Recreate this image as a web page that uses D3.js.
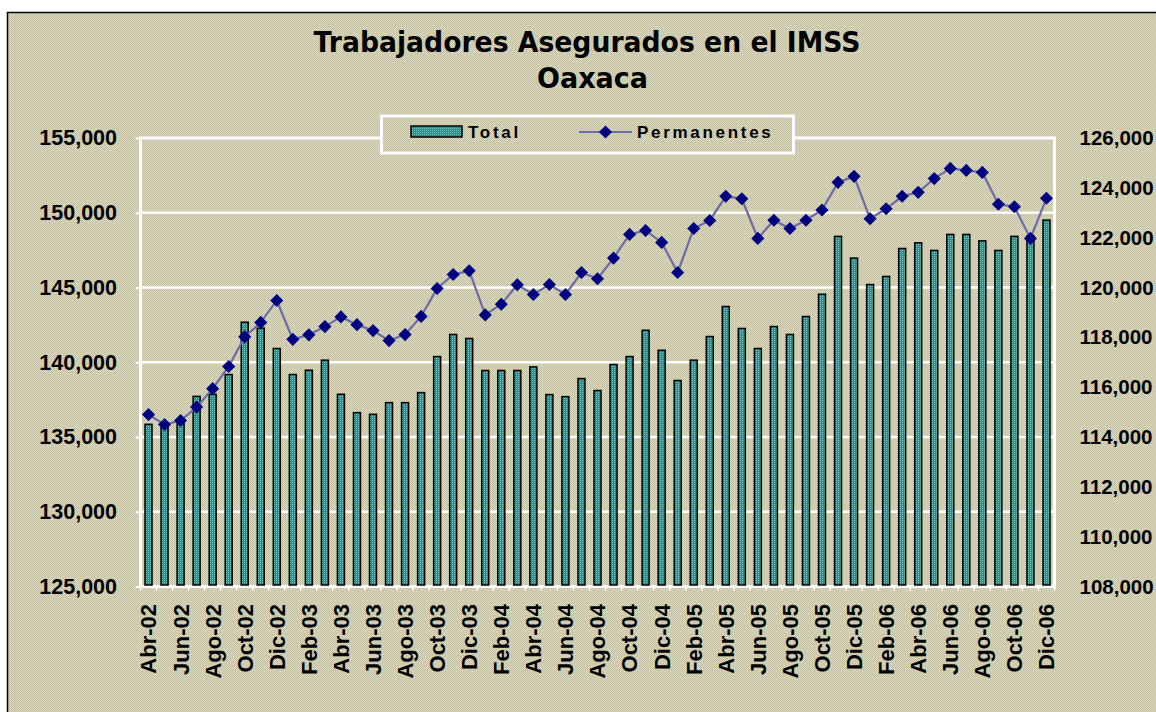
<!DOCTYPE html>
<html lang="es">
<head>
<meta charset="utf-8">
<title>Trabajadores Asegurados en el IMSS - Oaxaca</title>
<script src="https://cdn.jsdelivr.net/npm/d3@7.9.0/dist/d3.min.js"></script>
<style>
  html, body { margin: 0; padding: 0; background: #fff; }
  svg { display: block; }
  .axis text { font-family: 'Liberation Sans', Arial, sans-serif; font-weight: bold; font-size: 21.5px; fill: #000; }
  .axis.x text { font-size: 22px; }
  .axis.right text { font-size: 20.5px; }
  .axis line { stroke: #fff; stroke-width: 2; }
  .axis path { display: none; }
  .title { font-family: 'DejaVu Sans', Verdana, sans-serif; font-weight: bold; fill: #000; }
  .legend text { font-family: 'Liberation Sans', Arial, sans-serif; font-weight: bold; font-size: 17px; letter-spacing: 2.7px; fill: #000; }
</style>
</head>
<body>
<svg id="chart"></svg>
<script>
// months shown on the x axis (Spanish abbreviations)
const months = [
  'Abr-02', 'May-02', 'Jun-02', 'Jul-02', 'Ago-02', 'Sep-02', 'Oct-02', 'Nov-02', 'Dic-02',
  'Ene-03', 'Feb-03', 'Mar-03', 'Abr-03', 'May-03', 'Jun-03', 'Jul-03', 'Ago-03', 'Sep-03', 'Oct-03', 'Nov-03', 'Dic-03',
  'Ene-04', 'Feb-04', 'Mar-04', 'Abr-04', 'May-04', 'Jun-04', 'Jul-04', 'Ago-04', 'Sep-04', 'Oct-04', 'Nov-04', 'Dic-04',
  'Ene-05', 'Feb-05', 'Mar-05', 'Abr-05', 'May-05', 'Jun-05', 'Jul-05', 'Ago-05', 'Sep-05', 'Oct-05', 'Nov-05', 'Dic-05',
  'Ene-06', 'Feb-06', 'Mar-06', 'Abr-06', 'May-06', 'Jun-06', 'Jul-06', 'Ago-06', 'Sep-06', 'Oct-06', 'Nov-06', 'Dic-06',
];

// bars, left axis
const total = [
  135850, 135700, 135900, 137720, 137860, 139180, 142680, 142280, 140920,
  139180, 139470, 140140, 137860, 136630, 136520, 137300, 137300, 137970, 140380, 141860, 141590,
  139450, 139450, 139450, 139690, 137840, 137700, 138910, 138110, 139850, 140380, 142140, 140800,
  138780, 140140, 141720, 143730, 142260, 140920, 142390, 141860, 143060, 144550, 148420, 146970,
  145200, 145740, 147610, 147990, 147480, 148550, 148550, 148120, 147480, 148420, 148450, 149510,
];

// line, right axis
const permanentes = [
  114900, 114500, 114660, 115200, 115940, 116830, 118020, 118600, 119480,
  117920, 118100, 118430, 118820, 118510, 118270, 117870, 118110, 118840, 119960, 120520, 120670,
  118900, 119330, 120110, 119720, 120120, 119720, 120600, 120350, 121180, 122130, 122290, 121810,
  120600, 122370, 122690, 123660, 123560, 121970, 122700, 122370, 122700, 123110, 124220, 124460,
  122760, 123160, 123660, 123820, 124370, 124780, 124700, 124620, 123340, 123240, 121970, 123580,
];

const leftTicks = [125000, 130000, 135000, 140000, 145000, 150000, 155000];
const rightTicks = [108000, 110000, 112000, 114000, 116000, 118000, 120000, 122000, 124000, 126000];

const width = 1156;
const height = 712;
const plot = { left: 140.5, right: 1054.5, top: 138, bottom: 586.5 };

const svg = d3.select('#chart').attr('width', width).attr('height', height);
const defs = svg.append('defs');

// dithered khaki background like the old Excel fill
const bg = defs.append('pattern')
  .attr('id', 'bg')
  .attr('width', 2).attr('height', 2)
  .attr('patternUnits', 'userSpaceOnUse');
bg.append('rect').attr('width', 2).attr('height', 2).attr('fill', '#DAD8C0');
bg.append('rect').attr('width', 1).attr('height', 1).attr('fill', '#C3C19F');
bg.append('rect').attr('x', 1).attr('y', 1).attr('width', 1).attr('height', 1).attr('fill', '#C3C19F');

// dotted teal for bars
const barFill = defs.append('pattern')
  .attr('id', 'barFill')
  .attr('width', 2).attr('height', 2)
  .attr('patternUnits', 'userSpaceOnUse');
barFill.append('rect').attr('width', 2).attr('height', 2).attr('fill', '#288E88');
barFill.append('rect').attr('width', 1).attr('height', 1).attr('fill', '#7AC6C0');

svg.append('rect')
  .attr('x', 7.5).attr('y', 12.5)
  .attr('width', width).attr('height', height)
  .attr('fill', 'url(#bg)')
  .attr('stroke', '#000')
  .attr('stroke-width', 1.5);

const x = d3.scaleBand().domain(months).range([plot.left, plot.right]);
const yLeft = d3.scaleLinear().domain([125000, 155000]).range([plot.bottom, plot.top]);
const yRight = d3.scaleLinear().domain([108000, 126000]).range([plot.bottom, plot.top]);
const cx = (d) => x(d) + x.bandwidth() / 2;

// gridlines
svg.append('g')
  .selectAll('line')
  .data(leftTicks.slice(1, -1))
  .join('line')
  .attr('x1', plot.left).attr('x2', plot.right)
  .attr('y1', (d) => yLeft(d)).attr('y2', (d) => yLeft(d))
  .attr('stroke', '#fff')
  .attr('stroke-width', 2.5);

// plot border (top, left, right) + bottom axis line
svg.append('path')
  .attr('d', d3.line()([
    [plot.left, plot.bottom], [plot.left, plot.top], [plot.right, plot.top], [plot.right, plot.bottom], [plot.left, plot.bottom],
  ]))
  .attr('fill', 'none')
  .attr('stroke', '#fff')
  .attr('stroke-width', 3);

// category tick marks under the x axis
svg.append('g')
  .selectAll('line')
  .data(months.map((d) => x(d)).concat([plot.right]))
  .join('line')
  .attr('x1', (d) => d).attr('x2', (d) => d)
  .attr('y1', plot.bottom).attr('y2', plot.bottom + 4)
  .attr('stroke', '#fff')
  .attr('stroke-width', 1.5);

const barW = 7;
svg.append('g')
  .selectAll('rect')
  .data(months)
  .join('rect')
  .attr('x', (d) => cx(d) - barW / 2)
  .attr('y', (d, i) => yLeft(total[i]))
  .attr('width', barW)
  .attr('height', (d, i) => plot.bottom - 1.5 - yLeft(total[i]))
  .attr('fill', 'url(#barFill)')
  .attr('stroke', '#000')
  .attr('stroke-width', 1.5);

const line = d3.line()
  .x((d) => cx(d))
  .y((d, i) => yRight(permanentes[i]));

svg.append('path')
  .datum(months)
  .attr('d', line)
  .attr('fill', 'none')
  .attr('stroke', '#6B6BA6')
  .attr('stroke-width', 2.2);

const diamond = d3.symbol(d3.symbolSquare, 86);
svg.append('g')
  .selectAll('path')
  .data(months)
  .join('path')
  .attr('d', diamond)
  .attr('transform', (d, i) => `translate(${cx(d)},${yRight(permanentes[i])}) rotate(45)`)
  .attr('fill', '#000080');

// axes
svg.append('g')
  .attr('class', 'axis')
  .attr('transform', `translate(${plot.left},0)`)
  .call(d3.axisLeft(yLeft).tickValues(leftTicks).tickFormat(d3.format(',')).tickSize(5).tickPadding(18.5));

// right labels slightly smaller so they stay inside the page
svg.append('g')
  .attr('class', 'axis right')
  .attr('transform', `translate(${plot.right},0)`)
  .call(d3.axisRight(yRight).tickValues(rightTicks).tickFormat(d3.format(',')).tickSize(0).tickPadding(25));

const xAxis = svg.append('g')
  .attr('class', 'axis x')
  .attr('transform', `translate(0,${plot.bottom})`)
  .call(d3.axisBottom(x).tickValues(months.filter((d, i) => i % 2 === 0)).tickSize(0));

xAxis.selectAll('text')
  .attr('transform', 'rotate(-90)')
  .attr('x', -17.5)
  .attr('y', 0)
  .attr('dy', '0.36em')
  .attr('text-anchor', 'end');

// title
svg.append('text')
  .attr('class', 'title')
  .attr('x', 587).attr('y', 52)
  .attr('text-anchor', 'middle')
  .attr('font-size', 29)
  .attr('textLength', 547)
  .attr('lengthAdjust', 'spacingAndGlyphs')
  .text('Trabajadores Asegurados en el IMSS');

svg.append('text')
  .attr('class', 'title')
  .attr('x', 592.5).attr('y', 88)
  .attr('text-anchor', 'middle')
  .attr('font-size', 29)
  .attr('textLength', 111)
  .attr('lengthAdjust', 'spacingAndGlyphs')
  .text('Oaxaca');

// legend
const legend = svg.append('g').attr('class', 'legend');
legend.append('rect')
  .attr('x', 381.5).attr('y', 116)
  .attr('width', 412).attr('height', 37)
  .attr('fill', 'url(#bg)')
  .attr('stroke', '#fff')
  .attr('stroke-width', 3);
legend.append('rect')
  .attr('x', 411).attr('y', 126)
  .attr('width', 51).attr('height', 11)
  .attr('fill', 'url(#barFill)')
  .attr('stroke', '#000')
  .attr('stroke-width', 1.5);
legend.append('text').attr('x', 468).attr('y', 137.5).text('Total');
legend.append('line')
  .attr('x1', 579).attr('x2', 632)
  .attr('y1', 132).attr('y2', 132)
  .attr('stroke', '#6B6BA6')
  .attr('stroke-width', 2.2);
legend.append('path')
  .attr('d', diamond)
  .attr('transform', 'translate(605.5,132) rotate(45)')
  .attr('fill', '#000080');
legend.append('text').attr('x', 637).attr('y', 137.5).text('Permanentes');
</script>
</body>
</html>
